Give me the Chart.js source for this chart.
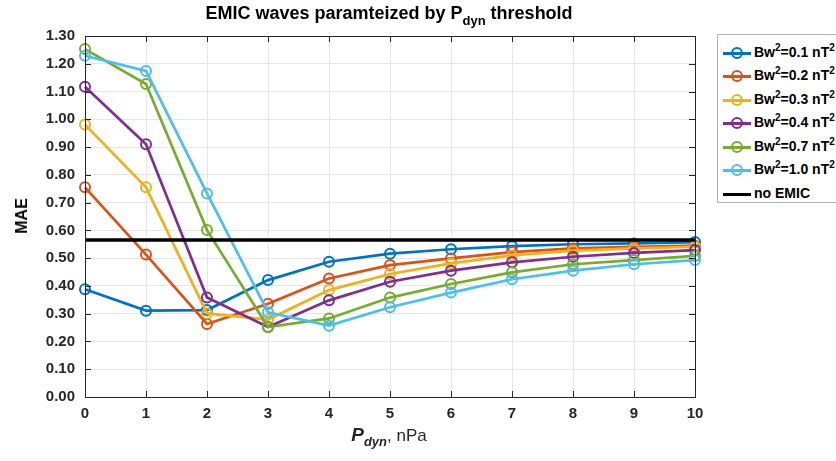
<!DOCTYPE html>
<html><head><meta charset="utf-8">
<script src="https://cdn.jsdelivr.net/npm/chart.js@4/dist/chart.umd.min.js"></script>
<style>
html,body{margin:0;padding:0;background:#fff;}
#wrap{position:relative;width:836px;height:461px;font-family:"Liberation Sans",Arial,sans-serif;color:#000;overflow:hidden;}
canvas{position:absolute;left:0;top:0;}
#title{position:absolute;left:0;width:778px;top:3px;text-align:center;font-weight:bold;font-size:18px;}
#title sub{font-size:13px;vertical-align:-6px;line-height:0;}
#ylab{position:absolute;left:22px;top:216px;transform:translate(-50%,-50%) rotate(-90deg);font-weight:bold;font-size:16px;}
#xlab{position:absolute;left:0;width:778px;top:424px;text-align:center;font-size:17px;color:#262626;}
#xlab b{font-style:italic;font-size:19px;}
#xlab sub{font-size:13px;font-weight:bold;font-style:italic;vertical-align:-5px;line-height:0;}
#legend{position:absolute;left:717px;top:34px;width:130px;height:169px;border:1px solid #b0b0b0;background:#fff;box-sizing:border-box;}
.row{position:absolute;left:0;height:20px;width:130px;font-weight:bold;font-size:14px;}
.ln{position:absolute;left:5px;top:9px;width:28px;height:0;border-top:3px solid;}
.mk{position:absolute;left:13px;top:4px;width:8px;height:8px;border:2px solid;border-radius:50%;background:transparent;}
.tx{position:absolute;left:36px;top:1px;white-space:nowrap;}
.tx sup{font-size:10px;vertical-align:6px;line-height:0;}
</style></head>
<body>
<div id="wrap">
<canvas id="c" width="836" height="461"></canvas>
<div id="title">EMIC waves paramteized by P<sub>dyn</sub> threshold</div>
<div id="ylab">MAE</div>
<div id="xlab"><b>P</b><sub>dyn</sub>, nPa</div>
<div id="legend"></div>
</div>
<script>
const xValues = [0,1,2,3,4,5,6,7,8,9,10];
const yTicks = [0,0.1,0.2,0.3,0.4,0.5,0.6,0.7,0.8,0.9,1.0,1.1,1.2,1.3];
const seriesNames = ["0.1","0.2","0.3","0.4","0.7","1.0"];
const bw01 = [0.388,0.311,0.313,0.421,0.487,0.516,0.532,0.543,0.550,0.553,0.558];
const bw02 = [0.755,0.513,0.263,0.336,0.427,0.475,0.499,0.522,0.535,0.541,0.545];
const bw03 = [0.981,0.755,0.301,0.279,0.385,0.443,0.481,0.510,0.527,0.535,0.541];
const bw04 = [1.117,0.910,0.358,0.252,0.348,0.415,0.455,0.485,0.505,0.519,0.529];
const bw07 = [1.253,1.127,0.601,0.252,0.283,0.358,0.407,0.449,0.478,0.493,0.508];
const bw10 = [1.229,1.174,0.733,0.305,0.257,0.323,0.376,0.424,0.455,0.478,0.493];
const noEmic = 0.565;
const colors = ["#0072BD","#D95319","#EDB120","#7E2F8E","#77AC30","#4DBEEE"];
const allSeries = [bw01,bw02,bw03,bw04,bw07,bw10];

const datasets = allSeries.map((s,i)=>({
  label: "Bw2="+seriesNames[i]+" nT2",
  data: xValues.map((x,j)=>({x:x,y:s[j]})),
  borderColor: colors[i],
  backgroundColor: "rgba(0,0,0,0)",
  borderWidth: 2.7,
  pointRadius: 5,
  pointBorderWidth: 2,
  pointBackgroundColor: "rgba(0,0,0,0)",
  pointBorderColor: colors[i],
  order: 10-i,
  clip: false
}));
datasets.push({
  label: "no EMIC",
  data: [{x:xValues[0],y:noEmic},{x:xValues[xValues.length-1],y:noEmic}],
  borderColor: "#000",
  borderWidth: 3.5,
  pointRadius: 0,
  order: 0,
  clip: false
});

const boxPlugin = {
  id: "box",
  afterDraw(chart){
    const {ctx, chartArea:a, scales:{x,y}} = chart;
    ctx.save();
    ctx.strokeStyle = "#262626";
    ctx.lineWidth = 1;
    ctx.beginPath();
    ctx.rect(Math.round(a.left)+0.5, Math.round(a.top)+0.5, Math.round(a.right-a.left), Math.round(a.bottom-a.top));
    const L = 6;
    xValues.forEach(v=>{
      const px = Math.round(x.getPixelForValue(v))+0.5;
      ctx.moveTo(px, a.bottom); ctx.lineTo(px, a.bottom-L);
      ctx.moveTo(px, a.top); ctx.lineTo(px, a.top+L);
    });
    yTicks.forEach(v=>{
      const py = Math.round(y.getPixelForValue(v))+0.5;
      ctx.moveTo(a.left, py); ctx.lineTo(a.left+L, py);
      ctx.moveTo(a.right, py); ctx.lineTo(a.right-L, py);
    });
    ctx.stroke();
    ctx.restore();
  }
};

new Chart(document.getElementById("c"), {
  type: "line",
  data: { datasets },
  options: {
    responsive: false,
    animation: false,
    layout: { padding: { left: 0, right: 141, top: 36, bottom: 0 } },
    plugins: { legend: { display: false }, title: { display: false }, tooltip: { enabled: false } },
    scales: {
      x: {
        type: "linear", min: 0, max: 10,
        afterFit(s){ s.height = 64; },
        afterBuildTicks(s){ s.ticks = xValues.map(v=>({value:v})); },
        ticks: { color: "#262626", font: { family: "Liberation Sans", weight: "bold", size: 15 }, padding: 8 },
        grid: { color: "#e6e6e6", drawTicks: false },
        border: { color: "#262626" }
      },
      y: {
        min: 0, max: 1.3,
        afterFit(s){ s.width = 85; },
        afterBuildTicks(s){ s.ticks = yTicks.map(v=>({value:v})); },
        ticks: { color: "#262626", font: { family: "Liberation Sans", weight: "bold", size: 15 }, padding: 10,
          callback: v => Number(v).toFixed(2) },
        grid: { color: "#e6e6e6", drawTicks: false },
        border: { color: "#262626" }
      }
    }
  },
  plugins: [boxPlugin]
});

// legend
const lg = document.getElementById("legend");
let html = "";
const rowY = [8,31,55,78,102,125,149];
seriesNames.forEach((n,i)=>{
  html += `<div class="row" style="top:${rowY[i]}px"><div class="ln" style="border-color:${colors[i]}"></div><div class="mk" style="border-color:${colors[i]}"></div><div class="tx">Bw<sup>2</sup>=${n} nT<sup>2</sup></div></div>`;
});
html += `<div class="row" style="top:${rowY[6]}px"><div class="ln" style="border-color:#000"></div><div class="tx">no EMIC</div></div>`;
lg.innerHTML = html;
</script>
</body></html>
